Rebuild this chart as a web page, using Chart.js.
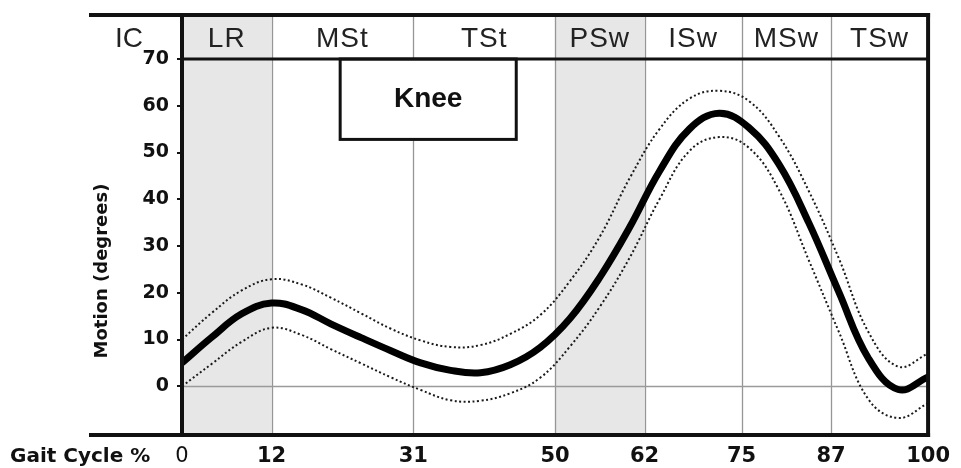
<!DOCTYPE html>
<html>
<head>
<meta charset="utf-8">
<script src="https://cdn.jsdelivr.net/npm/chart.js@4.4.1/dist/chart.umd.min.js"></script>
<style>
  html, body { margin: 0; padding: 0; background: #fff; }
  canvas { display: block; }
</style>
</head>
<body>
<canvas id="chart" width="961" height="468"></canvas>
<script>
// Knee flexion over one gait cycle: mean and normal band (degrees)
const gaitPct   = [0, 4, 8, 12, 16, 20, 24, 28, 32, 36, 40, 44, 48, 52, 56, 60, 64, 68, 72, 76, 80, 84, 88, 92, 96, 100];
const kneeMean  = [5, 10.5, 15.5, 17.8, 16.4, 13.3, 10.4, 7.6, 5.0, 3.4, 2.9, 4.6, 8.3, 14.5, 23.3, 34.0, 46.0, 55.0, 58.4, 55.3, 47.5, 35.0, 20.3, 6.0, -0.7, 2.0];
const kneeUpper = [10, 15.7, 20.5, 22.9, 21.8, 18.9, 15.6, 12.3, 9.8, 8.4, 8.8, 11.2, 15.2, 22.5, 32.0, 44.5, 55.0, 61.5, 63.2, 61.0, 53.5, 41.8, 27.5, 11.6, 4.2, 7.0];
const kneeLower = [0, 4.8, 9.5, 12.5, 11.0, 7.9, 4.9, 1.9, -0.8, -3.0, -3.1, -1.5, 1.8, 8.5, 17.0, 27.5, 40.0, 50.3, 53.3, 51.0, 42.0, 27.0, 11.8, -2.8, -6.8, -3.6];

// Gait phases along the top band
const phaseNames  = ['LR', 'MSt', 'TSt', 'PSw', 'ISw', 'MSw', 'TSw'];
const phaseBounds = [0, 12, 31, 50, 62, 75, 87, 100];
const phaseShaded = [true, false, false, true, false, false, false];

// Axis ticks
const xTickValues = [0, 12, 31, 50, 62, 75, 87, 100];
const yTickValues = [0, 10, 20, 30, 40, 50, 60, 70];

const toPoints = (ys) => gaitPct.map((x, i) => ({ x: x, y: ys[i] }));

const LABEL_FONT = '"DejaVu Sans", Verdana, sans-serif';
const PHASE_FONT = '"Liberation Sans", Arial, Helvetica, sans-serif';

const HEADER_TOP = 15;

const gaitFrame = {
  id: 'gaitFrame',
  beforeDraw(chart) {
    const { ctx, chartArea: a, scales: { x, y } } = chart;
    ctx.save();
    ctx.fillStyle = '#fff';
    ctx.fillRect(0, 0, chart.width, chart.height);

    // shaded phases (header + plot)
    ctx.fillStyle = '#e7e7e7';
    phaseNames.forEach((n, i) => {
      if (!phaseShaded[i]) return;
      const x0 = x.getPixelForValue(phaseBounds[i]);
      const x1 = x.getPixelForValue(phaseBounds[i + 1]);
      ctx.fillRect(x0, HEADER_TOP, x1 - x0, a.bottom - HEADER_TOP);
    });

    // phase dividers
    ctx.strokeStyle = '#969696';
    ctx.lineWidth = 1.3;
    phaseBounds.slice(1, -1).forEach((v) => {
      const px = Math.round(x.getPixelForValue(v)) + 0.5;
      ctx.beginPath();
      ctx.moveTo(px, HEADER_TOP);
      ctx.lineTo(px, a.bottom);
      ctx.stroke();
    });

    // zero line
    const y0 = Math.round(y.getPixelForValue(0)) + 0.5;
    ctx.strokeStyle = '#9a9a9a';
    ctx.lineWidth = 1.5;
    ctx.beginPath();
    ctx.moveTo(a.left, y0);
    ctx.lineTo(a.right, y0);
    ctx.stroke();

    // phase names
    ctx.fillStyle = '#222';
    ctx.font = '28px ' + PHASE_FONT;
    ctx.textAlign = 'center';
    ctx.textBaseline = 'middle';
    if ('letterSpacing' in ctx) ctx.letterSpacing = '1px';
    phaseNames.forEach((n, i) => {
      const cx = (x.getPixelForValue(phaseBounds[i]) + x.getPixelForValue(phaseBounds[i + 1])) / 2;
      ctx.fillText(n, cx, (HEADER_TOP + a.top) / 2 + 2);
    });
    if ('letterSpacing' in ctx) ctx.letterSpacing = '0px';
    ctx.restore();
  },
  afterDatasetsDraw(chart) {
    const { ctx, chartArea: a, scales: { x, y } } = chart;
    ctx.save();

    // title box
    const bx0 = x.getPixelForValue(21.2), bx1 = x.getPixelForValue(44.8);
    const by0 = a.top, by1 = y.getPixelForValue(52.8);
    ctx.fillStyle = '#fff';
    ctx.fillRect(bx0, by0, bx1 - bx0, by1 - by0);
    ctx.strokeStyle = '#111';
    ctx.lineWidth = 3;
    ctx.strokeRect(bx0, by0, bx1 - bx0, by1 - by0);
    ctx.fillStyle = '#111';
    ctx.font = 'bold 28px ' + PHASE_FONT;
    ctx.textAlign = 'center';
    ctx.textBaseline = 'middle';
    ctx.fillText('Knee', (bx0 + bx1) / 2, (by0 + by1) / 2);

    // frame lines
    ctx.strokeStyle = '#111';
    ctx.lineCap = 'butt';
    const line = (x0, y0, x1, y1, w) => {
      ctx.lineWidth = w;
      ctx.beginPath();
      ctx.moveTo(x0, y0);
      ctx.lineTo(x1, y1);
      ctx.stroke();
    };
    line(89, HEADER_TOP, a.right + 2, HEADER_TOP, 4);
    line(a.left, a.top, a.right, a.top, 3);
    line(a.left, HEADER_TOP, a.left, a.bottom + 4, 4);
    line(a.right, HEADER_TOP - 2, a.right, a.bottom + 4, 4);
    line(89, a.bottom + 2, a.right + 2, a.bottom + 2, 4);

    // IC marker, axis captions
    ctx.fillStyle = '#222';
    ctx.font = '28px ' + PHASE_FONT;
    ctx.textAlign = 'right';
    ctx.textBaseline = 'middle';
    ctx.fillText('IC', 143, (HEADER_TOP + a.top) / 2 + 2);

    ctx.fillStyle = '#111';
    ctx.font = 'bold 20px ' + LABEL_FONT;
    ctx.textAlign = 'left';
    ctx.fillText('Gait Cycle %', 10, 457);

    ctx.translate(102, 271);
    ctx.rotate(-Math.PI / 2);
    ctx.font = 'bold 18px ' + LABEL_FONT;
    ctx.textAlign = 'center';
    ctx.fillText('Motion (degrees)', 0, 0);
    ctx.restore();
  }
};

new Chart(document.getElementById('chart'), {
  type: 'line',
  data: {
    datasets: [
      {
        label: 'Mean',
        data: toPoints(kneeMean),
        borderColor: '#000',
        borderWidth: 7,
        tension: 0.4,
        pointRadius: 0,
        fill: false
      },
      {
        label: 'Upper',
        data: toPoints(kneeUpper),
        borderColor: '#1a1a1a',
        borderWidth: 2,
        borderDash: [2, 2.5],
        tension: 0.4,
        pointRadius: 0,
        fill: false
      },
      {
        label: 'Lower',
        data: toPoints(kneeLower),
        borderColor: '#1a1a1a',
        borderWidth: 2,
        borderDash: [2, 2.5],
        tension: 0.4,
        pointRadius: 0,
        fill: false
      }
    ]
  },
  options: {
    responsive: false,
    animation: false,
    devicePixelRatio: 1,
    layout: { padding: { top: 59, right: 29, left: 0, bottom: 0 } },
    plugins: {
      legend: { display: false },
      tooltip: { enabled: false }
    },
    scales: {
      x: {
        type: 'linear',
        min: 0,
        max: 100,
        afterBuildTicks: (s) => { s.ticks = xTickValues.map((v) => ({ value: v })); },
        afterFit: (s) => { s.height = 35; },
        grid: { display: false, drawTicks: false },
        border: { display: false },
        ticks: {
          padding: 11,
          maxRotation: 0,
          autoSkip: false,
          color: '#111',
          font: (c) => ({ family: LABEL_FONT, size: 21, weight: c.tick && c.tick.value === 0 ? 'normal' : 'bold' }),
          callback: (v) => String(v)
        }
      },
      y: {
        min: -10,
        max: 70,
        afterBuildTicks: (s) => { s.ticks = yTickValues.map((v) => ({ value: v })); },
        afterFit: (s) => { s.width = 182; },
        grid: { drawOnChartArea: false, drawTicks: true, tickLength: 5, tickColor: '#111', lineWidth: 2 },
        border: { display: false },
        ticks: {
          padding: 8,
          color: '#111',
          font: { family: LABEL_FONT, size: 19, weight: 'bold' },
          callback: (v) => String(v)
        }
      }
    }
  },
  plugins: [gaitFrame]
});
</script>
</body>
</html>
